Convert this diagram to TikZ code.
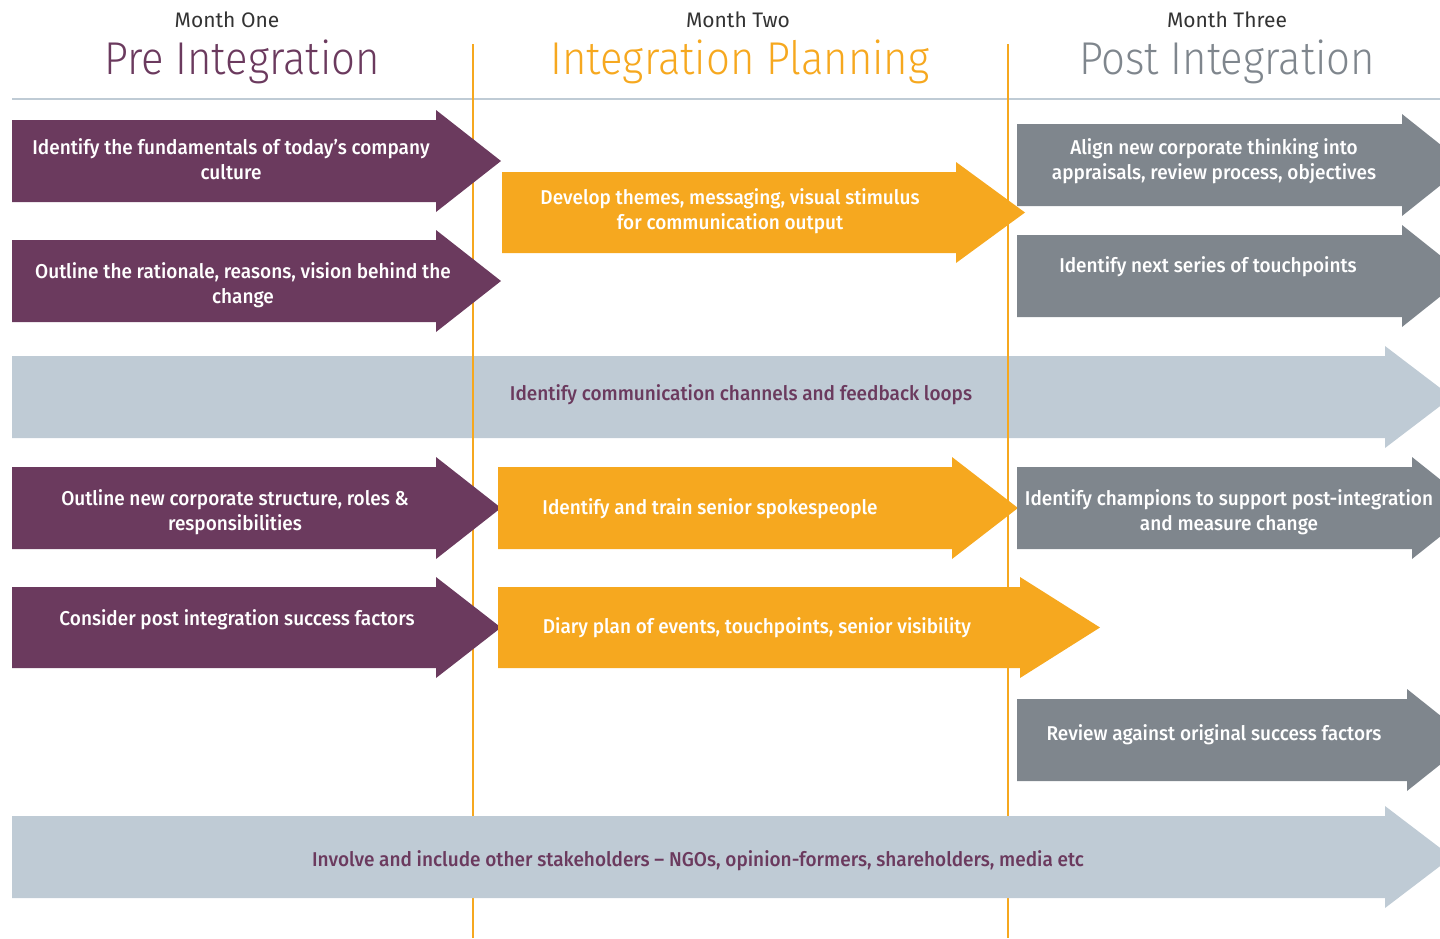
\documentclass[tikz,border=0pt]{standalone}
\usepackage{fontspec}
\setmainfont{Fira Sans}
\newfontfamily\bodyfont{Fira Sans Medium}[FakeStretch=0.95]
\newfontfamily\lightfont{Fira Sans Light}[FakeStretch=0.91]
\definecolor{plum}{HTML}{6B3A5E}
\definecolor{amber}{HTML}{F6A81F}
\definecolor{slate}{HTML}{7F868D}
\definecolor{mist}{HTML}{BFCBD5}
\definecolor{ink}{HTML}{333333}
% block arrow: #1 fill, #2 left x, #3 head start x, #4 tip x, #5 body top y, #6 body bottom y
\newcommand\blockarrow[6]{%
  \fill[#1] (#2,#5) -- (#3,#5) -- (#3,#5-10) -- (#4,{(#5+#6)/2}) -- (#3,#6+10) -- (#3,#6) -- (#2,#6) -- cycle;}
\tikzset{
  lbl/.style={font=\bodyfont\fontsize{20}{25}\selectfont, text=white, align=center, inner sep=0pt},
  bandlbl/.style={lbl, text=plum},
  month/.style={font=\fontsize{21}{24}\selectfont, text=ink, inner sep=0pt},
  phase/.style={font=\lightfont\fontsize{46}{50}\selectfont, inner sep=0pt},
  divider/.style={amber, line width=2.4pt},
}
\begin{document}
\begin{tikzpicture}[x=1pt, y=-1pt]
\path[use as bounding box] (0,0) rectangle (1440,938);
\clip (0,0) rectangle (1440,938);

% headings
\node[month] (m1) at (227,20) {Month One};
\node[month] (m2) at (738,20) {Month Two};
\node[month] (m3) at (1227,20) {Month Three};
\node[phase, text=plum] (h1) at (242,62) {Pre Integration};
\node[phase, text=amber] (h2) at (740,62) {Integration Planning};
\node[phase, text=slate] (h3) at (1227,62) {Post Integration};
\draw[mist, line width=2pt] (12,99) -- (1440,99);

% first shared band sits beneath the month dividers
\blockarrow{mist}{12}{1385}{1452}{356}{438}
\node[bandlbl] (b1) at (741,395) {Identify communication channels and feedback loops};

% month dividers
\draw[divider] (473,44) -- (473,938);
\draw[divider] (1008,44) -- (1008,938);

% month one
\blockarrow{plum}{12}{436}{501}{120}{202}
\node[lbl] (p1) at (231,159) {Identify the fundamentals of today’s company\\culture};
\blockarrow{plum}{12}{436}{501}{240}{322}
\node[lbl] (p2) at (243,285) {Outline the rationale, reasons, vision behind the\\change};
\blockarrow{plum}{12}{436}{501}{467}{549}
\node[lbl] (p3) at (235,512) {Outline new corporate structure, roles \&\\responsibilities};
\blockarrow{plum}{12}{436}{501}{587}{668}
\node[lbl] (p4) at (237,620) {Consider post integration success factors};

% month two
\blockarrow{amber}{502}{956}{1025}{172}{253}
\node[lbl] (o1) at (730,211.5) {Develop themes, messaging, visual stimulus\\for communication output};
\blockarrow{amber}{498}{952}{1018}{467}{549}
\node[lbl] (o2) at (710,509) {Identify and train senior spokespeople};
\blockarrow{amber}{498}{1020}{1100}{587}{668}
\node[lbl] (o3) at (757,628) {Diary plan of events, touchpoints, senior visibility};

% month three
\blockarrow{slate}{1017}{1402}{1466}{124}{206}
\node[lbl] (g1) at (1214,161) {Align new corporate thinking into\\appraisals, review process, objectives};
\blockarrow{slate}{1017}{1402}{1466}{235}{317}
\node[lbl] (g2) at (1208,267) {Identify next series of touchpoints};
\blockarrow{slate}{1017}{1412}{1476}{467}{549}
\node[lbl] (g3) at (1229,512) {Identify champions to support post-integration\\and measure change};
\blockarrow{slate}{1017}{1407}{1471}{699}{781}
\node[lbl] (g4) at (1214,735) {Review against original success factors};

% closing shared band
\blockarrow{mist}{12}{1385}{1452}{816}{898}
\node[bandlbl] (b2) at (698,861) {Involve and include other stakeholders – NGOs, opinion-formers, shareholders, media etc};
\end{tikzpicture}
\end{document}
